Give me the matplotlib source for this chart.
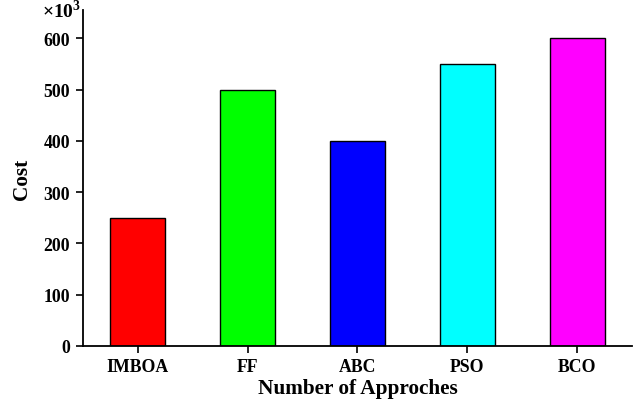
import matplotlib
matplotlib.use('Agg')
import matplotlib.pyplot as plt

# data (cost in units of 10^3)
approaches = ['IMBOA', 'FF', 'ABC', 'PSO', 'BCO']
cost = [250, 500, 400, 550, 600]
colors = ['#ff0000', '#00ff00', '#0000ff', '#00ffff', '#ff00ff']
yticks = [0, 100, 200, 300, 400, 500, 600]

plt.rcParams['font.family'] = ['Liberation Serif', 'DejaVu Serif']
plt.rcParams['font.weight'] = 'bold'
plt.rcParams['mathtext.fontset'] = 'custom'
plt.rcParams['mathtext.rm'] = 'Liberation Serif:bold'

fig = plt.figure(figsize=(6.36, 4.02), dpi=100)
ax = fig.add_axes([0.130, 0.137, 0.864, 0.835])

x = range(len(approaches))
ax.bar(x, cost, width=0.5, color=colors, edgecolor='black', linewidth=1.0)

ax.set_xlim(-0.5, 4.5)
ax.set_ylim(0, 655)
ax.set_xticks(list(x))
ax.set_xticklabels(approaches, fontsize=12.8, fontweight='bold')
ax.set_yticks(yticks)
ax.set_yticklabels([str(v) for v in yticks], fontsize=12.8, fontweight='bold')
ax.tick_params(direction='out', length=5, width=1.2, pad=4)

for s in ['top', 'right']:
    ax.spines[s].set_visible(False)
for s in ['left', 'bottom']:
    ax.spines[s].set_linewidth(1.3)

ax.set_xlabel('Number of Approches', fontsize=15.3, fontweight='bold', labelpad=2)
ax.set_ylabel('Cost', fontsize=15.3, fontweight='bold', labelpad=8)

ax.text(-0.002, 1.0, r'$\times$10$^3$', transform=ax.transAxes, ha='right', va='center',
        fontsize=14, fontweight='bold')

fig.savefig('out.png', dpi=100)
